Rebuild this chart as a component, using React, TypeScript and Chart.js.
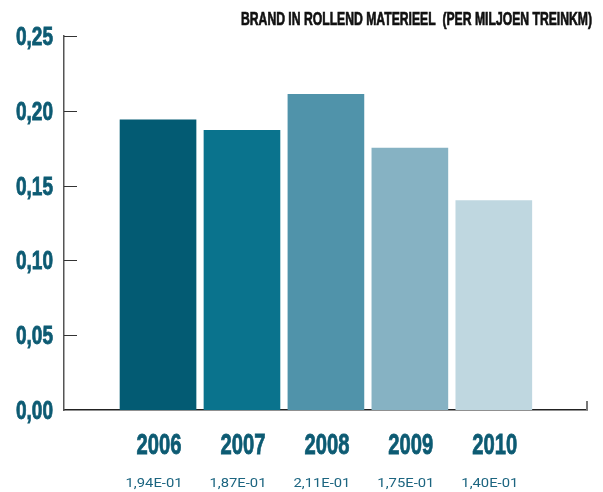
import React, { useEffect, useRef } from "react";
import { Chart, registerables } from "chart.js";

Chart.register(...registerables);

const TITLE = "BRAND IN ROLLEND MATERIEEL  (PER MILJOEN TREINKM)";
const YEARS = ["2006", "2007", "2008", "2009", "2010"];
const VALUES = [0.194, 0.187, 0.211, 0.175, 0.14];
const VALUE_LABELS = ["1,94E-01", "1,87E-01", "2,11E-01", "1,75E-01", "1,40E-01"];
const BAR_COLORS = ["#035b73", "#0a738d", "#5093aa", "#86b2c3", "#bfd7e0"];
const Y_TICK_VALUES = [0, 0.05, 0.1, 0.15, 0.2, 0.25];

const TEXT_TEAL = "#0d5b73";
const SMALL_TEAL = "#1c6580";

function drawScaled(
  ctx: CanvasRenderingContext2D,
  text: string,
  x: number,
  y: number,
  font: string,
  sx: number,
  align: CanvasTextAlign,
  color: string,
  stroke = 0
) {
  ctx.save();
  ctx.font = font;
  ctx.fillStyle = color;
  ctx.textAlign = align;
  ctx.textBaseline = "alphabetic";
  ctx.translate(x, y);
  ctx.scale(sx, 1);
  ctx.fillText(text, 0, 0);
  if (stroke > 0) {
    ctx.strokeStyle = color;
    ctx.lineWidth = stroke;
    ctx.lineJoin = "miter";
    ctx.strokeText(text, 0, 0);
  }
  ctx.restore();
}

function fitScale(ctx: CanvasRenderingContext2D, text: string, font: string, target: number) {
  ctx.save();
  ctx.font = font;
  const w = ctx.measureText(text).width;
  ctx.restore();
  return target / w;
}

const decorPlugin = {
  id: "decor",
  afterDraw(chart: any) {
    const ctx: CanvasRenderingContext2D = chart.ctx;
    const area = chart.chartArea;
    const xs = chart.scales.x;
    const ys = chart.scales.y;

    ctx.save();
    ctx.strokeStyle = "#333";
    ctx.lineWidth = 1;
    Y_TICK_VALUES.forEach((v) => {
      if (v === 0) return;
      const py = Math.round(ys.getPixelForValue(v)) + 0.5;
      ctx.beginPath();
      ctx.moveTo(area.left, py);
      ctx.lineTo(area.left + 13, py);
      ctx.stroke();
    });
    ctx.strokeStyle = "#777";
    ctx.lineWidth = 2;
    ctx.beginPath();
    ctx.moveTo(area.right, area.bottom);
    ctx.lineTo(area.right, area.bottom - 9);
    ctx.stroke();
    ctx.restore();

    const yFont = "bold 25px 'Liberation Sans', Arial, sans-serif";
    const ySx = fitScale(ctx, "0,25", yFont, 37);
    Y_TICK_VALUES.forEach((v) => {
      const py = ys.getPixelForValue(v);
      const label = v.toFixed(2).replace(".", ",");
      drawScaled(ctx, label, area.left - 11, py + 9, yFont, ySx, "right", TEXT_TEAL, 0.8);
    });

    const yearFont = "bold 29px 'Liberation Sans', Arial, sans-serif";
    const yearSx = fitScale(ctx, "2006", yearFont, 45);
    const valFont = "13px Roboto, 'Liberation Sans', sans-serif";
    const valSx = fitScale(ctx, "1,94E-01", valFont, 57);
    YEARS.forEach((yr, i) => {
      const px = xs.getPixelForValue(i);
      drawScaled(ctx, yr, px + 1, area.bottom + 44, yearFont, yearSx, "center", TEXT_TEAL, 0.8);
      drawScaled(ctx, VALUE_LABELS[i], px - 4, area.bottom + 77, valFont, valSx, "center", SMALL_TEAL);
    });

    const tFont = "bold 18px 'Liberation Sans', Arial, sans-serif";
    const tSx = fitScale(ctx, TITLE, tFont, 351);
    drawScaled(ctx, TITLE, area.right + 5, 17, tFont, tSx, "right", "#111", 0.7);
  },
};

export default function App() {
  const ref = useRef<HTMLCanvasElement | null>(null);
  useEffect(() => {
    if (!ref.current) return;
    document.body.style.overflow = "hidden";
    const chart = new Chart(ref.current, {
      type: "bar",
      data: {
        datasets: [
          {
            data: VALUES.map((v, i) => ({ x: i, y: v })),
            backgroundColor: BAR_COLORS,
            barThickness: 76,
            borderWidth: 0,
          },
        ],
      },
      options: {
        animation: false,
        responsive: false,
        maintainAspectRatio: false,
        layout: { padding: { left: 0, top: 28, right: 8, bottom: 0 } },
        plugins: { legend: { display: false }, tooltip: { enabled: false }, title: { display: false } },
        scales: {
          x: {
            type: "linear",
            offset: false,
            min: -1.12,
            max: 5.11,
            grid: { display: false, offset: false },
            ticks: { display: false },
            border: { display: true, color: "#222", width: 1.5 },
            afterFit: (s: any) => {
              s.height = 82;
            },
          },
          y: {
            min: 0,
            max: 0.25,
            ticks: { display: false, stepSize: 0.05 },
            grid: { display: false },
            border: { display: true, color: "#555", width: 1.5 },
            afterFit: (s: any) => {
              s.width = 56;
            },
          },
        },
      },
      plugins: [decorPlugin],
    });
    return () => chart.destroy();
  }, []);
  return (
    <div style={{ width: 587, height: 484 }}>
      <canvas ref={ref} width={587} height={484} style={{ display: "block", width: 587, height: 484 }} />
    </div>
  );
}
